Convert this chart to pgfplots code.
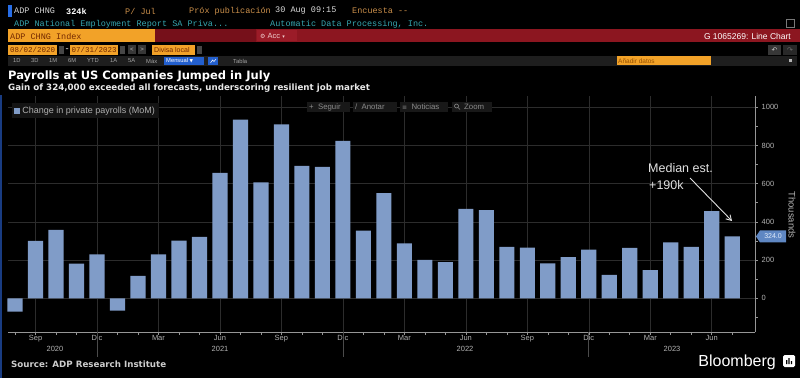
\documentclass[border=0pt]{standalone}
\usepackage{pgfplots}
\pgfplotsset{compat=1.18}
\usepackage{pgfplotstable}
\usepackage{fontspec}
\setmainfont{Liberation Sans}
\setmonofont{Liberation Mono}
\newfontfamily\dejavu{DejaVu Sans}
\usetikzlibrary{arrows.meta}
\definecolor{barblue}{RGB}{128,156,200}
\definecolor{gridc}{RGB}{44,44,44}
\definecolor{axc}{RGB}{150,150,150}
\definecolor{tickc}{RGB}{178,178,178}
\definecolor{uiorange}{RGB}{242,162,40}
\definecolor{uired}{RGB}{140,22,32}
\definecolor{uireddark}{RGB}{118,16,26}
\definecolor{uiredacc}{RGB}{155,28,40}
\definecolor{uiteal}{RGB}{55,168,178}
\definecolor{uitan}{RGB}{205,145,75}
\definecolor{uiband}{RGB}{30,30,30}
\definecolor{uiblue}{RGB}{35,95,205}
\definecolor{btnc}{RGB}{24,24,24}
\definecolor{ortext}{RGB}{115,40,0}
\definecolor{tagblue}{RGB}{95,135,195}
\definecolor{tagtext}{RGB}{225,235,250}
\definecolor{annc}{RGB}{225,225,225}
\definecolor{stripc}{RGB}{25,60,130}
\definecolor{cursorc}{RGB}{40,110,230}
\definecolor{lgt}{RGB}{215,215,215}
\definecolor{lgt2}{RGB}{220,220,220}
\definecolor{iconc}{RGB}{120,120,120}
\definecolor{accc}{RGB}{240,205,205}
\definecolor{g70}{RGB}{70,70,70}
\definecolor{g55}{RGB}{55,55,55}
\definecolor{g40}{RGB}{40,40,40}
\definecolor{g75}{RGB}{75,75,75}
\definecolor{g110}{RGB}{110,110,110}
\definecolor{g140}{RGB}{140,140,140}
\definecolor{g165}{RGB}{165,165,165}
\definecolor{g175}{RGB}{175,175,175}
\definecolor{g180}{RGB}{180,180,180}
\definecolor{g190}{RGB}{190,190,190}
\definecolor{g200}{RGB}{200,200,200}
\definecolor{g205}{RGB}{205,205,205}
\definecolor{g232}{RGB}{232,232,232}
\definecolor{legfill}{RGB}{20,20,20}
\definecolor{addtext}{RGB}{150,80,0}

\pgfplotstableread{
k v
0 -70
1 300
2 358
3 181
4 230
5 -65
6 117
7 230
8 302
9 321
10 656
11 935
12 607
13 911
14 693
15 688
16 824
17 354
18 551
19 288
20 201
21 190
22 468
23 461
24 269
25 265
26 183
27 216
28 255
29 122
30 264
31 147
32 293
33 269
34 457
35 324
}\payrolls

\tikzset{
 hd/.style={anchor=west,inner sep=0pt,font=\ttfamily\fontsize{8.5}{9}\selectfont},
 sm/.style={anchor=west,inner sep=0pt,font=\fontsize{5.8}{6}\selectfont,text=g165},
 btn/.style={anchor=west,inner sep=0pt,font=\fontsize{7.8}{8}\selectfont,text=g140}
}

\begin{document}
\begin{tikzpicture}[x=1pt,y=1pt]
\useasboundingbox (0,0) rectangle (800,378);
\fill[black] (0,0) rectangle (800,378);
% left blue strip
\fill[stripc] (0,0) rectangle (1.5,283);

% ---------- header row 1
\fill[cursorc] (8,361) rectangle (11.5,373);
\node[hd,text=lgt] at (14,367) {ADP CHNG};
\node[hd,text=white,font=\ttfamily\bfseries\fontsize{8.5}{9}\selectfont] at (66,367) {324k};
\node[hd,text=uitan] at (125,367) {P/ Jul};
\node[hd,text=uitan] at (189,367) {Próx publicación};
\node[hd,text=lgt2] at (275,367) {30 Aug 09:15};
\node[hd,text=uitan] at (352,367) {Encuesta --};
% row 2
\node[hd,text=uiteal] at (14,354) {ADP National Employment Report SA Priva...};
\node[hd,text=uiteal] at (270,354) {Automatic Data Processing, Inc.};
\draw[iconc,line width=0.8pt] (786,351) rectangle (794,359);
% row 3
\fill[uiorange] (8,335.5) rectangle (155,348.5);
\fill[uired] (155,335.5) rectangle (800,348.5);
\fill[uireddark] (155,335.5) rectangle (256,348.5);
\fill[uiredacc] (257,336.5) rectangle (297,347.5);
\node[hd,text=ortext] at (10,342) {ADP CHNG Index};
\node[anchor=west,inner sep=0pt,text=accc,font=\fontsize{7.5}{8}\selectfont] at (260,342) {{\dejavu\fontsize{6}{6}\selectfont ⚙} Acc {\dejavu\fontsize{5}{6}\selectfont ▾}};
\node[anchor=east,inner sep=0pt,text=white,font=\fontsize{8.5}{9}\selectfont] at (791,342) {G 1065269: Line Chart};
% row 4
\fill[uiorange] (8,323) rectangle (57,333);
\node[hd,text=ortext,font=\ttfamily\fontsize{7.5}{8}\selectfont] at (10,328) {08/02/2020};
\fill[g70] (59,324) rectangle (63.5,332);
\node[hd,text=white] at (64.5,328) {-};
\fill[uiorange] (70,323) rectangle (118,333);
\node[hd,text=ortext,font=\ttfamily\fontsize{7.5}{8}\selectfont] at (71.5,328) {07/31/2023};
\fill[g70] (120,324) rectangle (125,332);
\fill[g55] (128,323.5) rectangle (136,332.5);
\fill[g55] (138,323.5) rectangle (146,332.5);
\node[text=g190,inner sep=0pt,font=\fontsize{6}{6}\selectfont] at (132,328) {<};
\node[text=g190,inner sep=0pt,font=\fontsize{6}{6}\selectfont] at (142,328) {>};
\fill[uiorange] (152,323) rectangle (195,333);
\node[anchor=west,inner sep=0pt,text=ortext,font=\fontsize{7}{8}\selectfont] at (154,328) {Divisa local};
\fill[g70] (197,324) rectangle (202,332);
\fill[g55] (768,323) rectangle (781,333);
\fill[g40] (783,323) rectangle (797,333);
\node[text=g200,inner sep=0pt,font=\dejavu\fontsize{7}{7}\selectfont] at (774.5,328) {↶};
\node[text=g110,inner sep=0pt,font=\dejavu\fontsize{7}{7}\selectfont] at (790,328) {↷};
% row 5
\fill[uiband] (8,312) rectangle (797,322);
\node[sm] at (13,317) {1D};
\node[sm] at (31,317) {3D};
\node[sm] at (49,317) {1M};
\node[sm] at (68,317) {6M};
\node[sm] at (87,317) {YTD};
\node[sm] at (110,317) {1A};
\node[sm] at (128,317) {5A};
\node[sm] at (146,317) {Máx};
\fill[uiblue] (164,313) rectangle (204,321);
\node[sm,text=white] at (166,317) {Mensual {\dejavu\fontsize{4.5}{5}\selectfont ▼}};
\fill[uiblue] (208,313) rectangle (218,321);
\draw[white,line width=0.5pt] (210.5,315) -- (212.5,318) -- (214,316.5) -- (216,319);
\node[sm] at (233,317) {Tabla};
\fill[uiorange] (617,313) rectangle (711,321.5);
\node[anchor=west,inner sep=0pt,text=addtext,font=\fontsize{6.5}{7}\selectfont] at (618,317.2) {Añadir datos};
\fill[g180] (789,315.5) rectangle (792,318.5);

% ---------- titles
\node[anchor=west,inner sep=0pt,text=white,font=\dejavu\bfseries\fontsize{11.5}{13}\selectfont] at (8,302) {Payrolls at US Companies Jumped in July};
\node[anchor=west,inner sep=0pt,text=g232,font=\dejavu\bfseries\fontsize{8.7}{9.5}\selectfont] at (8,290) {Gain of 324,000 exceeded all forecasts, underscoring resilient job market};

% ---------- chart
\begin{axis}[
 at={(8pt,46pt)}, anchor=south west, scale only axis,
 width=747pt, height=236pt,
 xmin=-0.342, xmax=36.11, ymin=-176.4, ymax=1059,
 axis x line*=bottom, axis y line*=right,
 axis line style={draw=axc, line width=0.8pt},
 xtick={1,4,...,34},
 xticklabels={Sep,Dic,Mar,Jun,Sep,Dic,Mar,Jun,Sep,Dic,Mar,Jun},
 minor xtick={0,...,35},
 ytick={0,200,400,600,800,1000},
 minor ytick={-100,100,300,500,700,900},
 xmajorgrids, ymajorgrids,
 grid style={draw=gridc, line width=0.6pt},
 tick align=outside,
 tick style={draw=axc, line width=0.6pt},
 major tick length=3pt, minor tick length=2.5pt,
 ticklabel style={font=\fontsize{7.5}{8}\selectfont, text=tickc},
 xticklabel style={anchor=north, inner sep=0pt},
 yticklabel style={anchor=west, inner sep=0pt, xshift=3.5pt},
 /pgf/number format/assume math mode=true,
 /pgf/number format/1000 sep={},
 clip=false,
 legend style={at={(0.005,0.970)}, anchor=north west,
   fill=legfill, draw=none,
   inner xsep=2pt, inner ysep=1.5pt,
   font=\fontsize{9}{10}\selectfont, text=g175},
 legend image code/.code={\fill[barblue] (0pt,-3.2pt) rectangle (6.4pt,3.2pt);},
 legend cell align=left,
]
\addplot[ybar, bar width=0.74, fill=barblue, draw=none] table[x=k, y=v] {\payrolls};
\addlegendentry{Change in private payrolls (MoM)}
\end{axis}

% value tag (324 on the axis scale)
\fill[tagblue] (756,141.6) -- (760,147.6) -- (786,147.6) -- (786,135.6) -- (760,135.6) -- cycle;
\node[inner sep=0pt, text=tagtext, font=\fontsize{7}{7}\selectfont] at (773,141.6) {324.0};

% year separators and year labels
\foreach \xx in {97,342.8,588.7} \draw[g75,line width=0.6pt] (\xx,46) -- (\xx,21);
\foreach \xx/\yy in {55/2020,220/2021,465/2022,672/2023}
  \node[inner sep=0pt,text=tickc,font=\fontsize{7.5}{8}\selectfont] at (\xx,29) {\yy};

% y label
\node[rotate=-90,inner sep=0pt,text=tickc,font=\fontsize{9.5}{10}\selectfont] at (792,163) {Thousands};

% buttons
\fill[btnc] (307,266) rectangle (350,276);
\node[btn] at (309,271) {+ \ Seguir};
\fill[btnc] (353,266) rectangle (397,276);
\node[btn] at (355,271) {/ \ Anotar};
\fill[btnc] (400,266) rectangle (448,276);
\node[btn] at (402,271) {{\dejavu\fontsize{6}{6}\selectfont ≡} \ Noticias};
\fill[btnc] (452,266) rectangle (492,276);
\draw[g140,line width=0.6pt] (456.5,272) circle (2pt) (458,270.5) -- (460,268.5);
\node[btn] at (464,271) {Zoom};

% annotation
\node[anchor=west,inner sep=0pt,text=annc,font=\fontsize{12.5}{14}\selectfont] at (648,210) {Median est.};
\node[anchor=west,inner sep=0pt,text=annc,font=\fontsize{12.5}{14}\selectfont] at (649,193) {+190k};
\draw[annc,line width=0.9pt,-{Straight Barb[length=5pt,width=6pt]}] (690,200) -- (732,157);

% footer
\node[anchor=west,inner sep=0pt,text=g205,font=\dejavu\bfseries\fontsize{8.7}{9.5}\selectfont] at (11,14) {Source: ADP Research Institute};
\node[anchor=base east,inner sep=0pt,text=white,font=\fontsize{16}{18}\selectfont] at (776,12) {Bloomberg};
\fill[white,rounded corners=1.5pt] (783,11) rectangle (795,23);
\fill[black] (786,14) rectangle (787.3,18) (788.4,14) rectangle (789.7,20) (790.8,14) rectangle (792.1,17);
\end{tikzpicture}
\end{document}
